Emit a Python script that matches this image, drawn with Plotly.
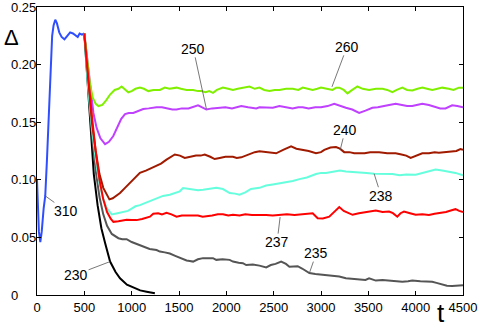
import plotly.graph_objects as go

# tick values
x_ticks = [0, 500, 1000, 1500, 2000, 2500, 3000, 3500, 4000, 4500]
y_ticks = [0, 0.05, 0.10, 0.15, 0.20, 0.25]
y_tick_text = ["0", "0.05", "0.10", "0.15", "0.20", "0.25"]

# series "310" (common start, up to t=500)
t_310 = [0, 10, 20, 35, 50, 70, 87, 105, 120, 140, 160, 175, 193, 210, 235, 260, 290,
         320, 350, 380, 410, 430, 450, 475, 500]
d_310 = [0.100, 0.075, 0.055, 0.046, 0.055, 0.075, 0.086, 0.117, 0.150, 0.195, 0.225,
         0.234, 0.239, 0.236, 0.228, 0.224, 0.222, 0.225, 0.228, 0.227, 0.225, 0.224,
         0.227, 0.226, 0.227]

t_230 = [500, 530, 560, 600, 640, 680, 720, 772, 830, 877, 950, 1017, 1090, 1158, 1245]
d_230 = [0.227, 0.190, 0.145, 0.105, 0.078, 0.058, 0.045, 0.029, 0.020, 0.0145, 0.009,
         0.0067, 0.004, 0.0029, 0.0015]

t_235 = [500, 540, 580, 620, 660, 700, 740, 790, 860, 900, 947, 1000, 1060, 1122, 1190,
         1263, 1298, 1350, 1403, 1460, 1520, 1580, 1614, 1649, 1700, 1754, 1810, 1859,
         1894, 1960, 2035, 2070, 2130, 2175, 2210, 2280, 2350, 2421, 2470, 2520, 2579,
         2630, 2666, 2720, 2754, 2800, 2842, 2877, 2940, 3000, 3052, 3120, 3193, 3263,
         3330, 3403, 3470, 3508, 3579, 3650, 3720, 3824, 3859, 3920, 3964, 4050, 4120,
         4175, 4220, 4280, 4330, 4386, 4440, 4500]
d_235 = [0.227, 0.180, 0.140, 0.108, 0.085, 0.070, 0.060, 0.053, 0.0493, 0.0485, 0.0485,
         0.046, 0.044, 0.042, 0.040, 0.039, 0.0377, 0.037, 0.036, 0.034, 0.032, 0.030,
         0.0296, 0.029, 0.031, 0.032, 0.032, 0.032, 0.0305, 0.031, 0.0305, 0.029, 0.028,
         0.0276, 0.026, 0.0265, 0.0255, 0.024, 0.026, 0.027, 0.029, 0.027, 0.0246, 0.025,
         0.025, 0.023, 0.021, 0.019, 0.0183, 0.0178, 0.0174, 0.017, 0.016, 0.0145, 0.014,
         0.0135, 0.013, 0.0145, 0.0125, 0.013, 0.0125, 0.012, 0.0116, 0.012, 0.0125,
         0.012, 0.012, 0.0115, 0.0105, 0.009, 0.008, 0.0078, 0.0082, 0.0085]

t_237 = [500, 540, 580, 620, 660, 700, 740, 780, 807, 860, 947, 1000, 1052, 1110, 1160,
         1193, 1228, 1280, 1320, 1368, 1420, 1474, 1530, 1590, 1649, 1700, 1750, 1789,
         1850, 1910, 1964, 2020, 2070, 2140, 2200, 2270, 2350, 2420, 2490, 2561, 2640,
         2720, 2800, 2870, 2912, 2965, 3020, 3087, 3140, 3193, 3240, 3290, 3333, 3400,
         3470, 3530, 3579, 3650, 3719, 3760, 3806, 3840, 3877, 3940, 4000, 4070, 4140,
         4200, 4245, 4320, 4380, 4421, 4460, 4500]
d_237 = [0.227, 0.190, 0.155, 0.125, 0.100, 0.083, 0.072, 0.066, 0.0635, 0.064, 0.0653,
         0.065, 0.065, 0.066, 0.067, 0.068, 0.0705, 0.071, 0.070, 0.0713, 0.070, 0.068,
         0.069, 0.069, 0.0687, 0.069, 0.068, 0.0683, 0.069, 0.070, 0.070, 0.069, 0.0696,
         0.069, 0.070, 0.0695, 0.0696, 0.0695, 0.069, 0.0695, 0.070, 0.0695, 0.070,
         0.0705, 0.071, 0.0667, 0.0665, 0.068, 0.072, 0.0763, 0.073, 0.071, 0.0696,
         0.071, 0.072, 0.0725, 0.0733, 0.072, 0.0725, 0.071, 0.068, 0.071, 0.0725, 0.071,
         0.0696, 0.070, 0.0695, 0.0705, 0.071, 0.072, 0.0735, 0.0745, 0.073, 0.072]

t_238 = [500, 540, 580, 620, 660, 700, 740, 789, 850, 912, 960, 1000, 1040, 1087, 1150,
         1200, 1263, 1330, 1403, 1460, 1508, 1543, 1600, 1650, 1700, 1754, 1800, 1894,
         1964, 2000, 2035, 2090, 2140, 2200, 2260, 2350, 2420, 2490, 2561, 2640, 2701,
         2772, 2850, 2947, 3000, 3052, 3120, 3200, 3263, 3330, 3403, 3480, 3561, 3660,
         3754, 3830, 3900, 4000, 4080, 4150, 4210, 4280, 4350, 4420, 4500]
d_238 = [0.227, 0.180, 0.145, 0.118, 0.097, 0.083, 0.075, 0.070, 0.071, 0.0725, 0.073,
         0.075, 0.077, 0.078, 0.080, 0.082, 0.084, 0.086, 0.087, 0.089, 0.090, 0.0928,
         0.092, 0.0915, 0.091, 0.0913, 0.092, 0.093, 0.092, 0.090, 0.0885, 0.088, 0.087,
         0.089, 0.092, 0.093, 0.095, 0.096, 0.097, 0.098, 0.099, 0.1006, 0.102, 0.105,
         0.106, 0.106, 0.107, 0.108, 0.1073, 0.107, 0.107, 0.106, 0.1053, 0.105, 0.105,
         0.104, 0.1045, 0.1044, 0.106, 0.108, 0.109, 0.108, 0.107, 0.106, 0.104]

t_240 = [500, 540, 580, 620, 660, 700, 740, 765, 800, 840, 877, 930, 1000, 1050, 1087,
         1150, 1200, 1263, 1310, 1368, 1410, 1456, 1510, 1561, 1620, 1680, 1730, 1772,
         1830, 1877, 1930, 1990, 2070, 2110, 2158, 2210, 2260, 2300, 2350, 2420, 2480,
         2526, 2600, 2650, 2684, 2740, 2807, 2870, 2947, 3000, 3035, 3100, 3158, 3200,
         3245, 3300, 3350, 3403, 3460, 3520, 3614, 3700, 3789, 3850, 3900, 3947, 4000,
         4070, 4140, 4200, 4245, 4300, 4386, 4430, 4473, 4500]
d_240 = [0.227, 0.185, 0.150, 0.125, 0.105, 0.093, 0.086, 0.083, 0.084, 0.086, 0.0885,
         0.093, 0.0986, 0.103, 0.106, 0.108, 0.110, 0.112, 0.114, 0.1175, 0.120, 0.122,
         0.121, 0.119, 0.120, 0.121, 0.121, 0.122, 0.120, 0.118, 0.119, 0.120, 0.120,
         0.119, 0.1195, 0.121, 0.123, 0.124, 0.1247, 0.124, 0.123, 0.123, 0.126, 0.128,
         0.129, 0.127, 0.126, 0.125, 0.123, 0.124, 0.126, 0.128, 0.1285, 0.127, 0.124,
         0.124, 0.123, 0.123, 0.123, 0.124, 0.124, 0.123, 0.123, 0.122, 0.121, 0.119,
         0.121, 0.123, 0.123, 0.124, 0.1235, 0.124, 0.1245, 0.125, 0.1267, 0.126]

t_250 = [500, 530, 560, 596, 630, 670, 719, 760, 806, 850, 890, 930, 970, 1017, 1070,
         1122, 1180, 1263, 1320, 1380, 1430, 1474, 1530, 1600, 1650, 1701, 1740, 1789,
         1850, 1929, 1990, 2060, 2100, 2158, 2230, 2316, 2350, 2420, 2491, 2561, 2630,
         2700, 2760, 2807, 2870, 2940, 3000, 3070, 3140, 3200, 3263, 3330, 3403, 3470,
         3543, 3600, 3649, 3720, 3789, 3850, 3910, 3964, 4020, 4070, 4140, 4210, 4260,
         4315, 4350, 4386, 4440, 4500]
d_250 = [0.227, 0.205, 0.180, 0.158, 0.145, 0.136, 0.131, 0.133, 0.138, 0.146, 0.153,
         0.157, 0.158, 0.158, 0.160, 0.1615, 0.162, 0.163, 0.163, 0.162, 0.161, 0.161,
         0.162, 0.162, 0.163, 0.1647, 0.163, 0.161, 0.162, 0.1625, 0.163, 0.162, 0.163,
         0.164, 0.163, 0.162, 0.163, 0.163, 0.1625, 0.164, 0.163, 0.162, 0.163, 0.163,
         0.162, 0.163, 0.163, 0.164, 0.166, 0.164, 0.1625, 0.161, 0.158, 0.160, 0.1625,
         0.163, 0.164, 0.165, 0.166, 0.165, 0.164, 0.164, 0.165, 0.166, 0.165, 0.163,
         0.162, 0.162, 0.163, 0.1647, 0.164, 0.163]

t_260 = [500, 530, 560, 590, 620, 650, 690, 730, 772, 820, 860, 894, 930, 964, 1000,
         1040, 1087, 1130, 1175, 1230, 1298, 1350, 1400, 1474, 1520, 1580, 1649, 1700,
         1737, 1780, 1820, 1859, 1900, 1964, 2020, 2070, 2120, 2180, 2245, 2300, 2350,
         2400, 2456, 2510, 2561, 2630, 2701, 2760, 2807, 2860, 2912, 2960, 3000, 3060,
         3122, 3160, 3193, 3240, 3280, 3330, 3385, 3440, 3508, 3580, 3649, 3700, 3754,
         3800, 3859, 3910, 3964, 4020, 4070, 4120, 4175, 4230, 4280, 4350, 4400, 4456,
         4500]
d_260 = [0.227, 0.205, 0.183, 0.171, 0.166, 0.164, 0.165, 0.169, 0.174, 0.178, 0.179,
         0.181, 0.178, 0.176, 0.177, 0.179, 0.180, 0.179, 0.177, 0.178, 0.178, 0.180,
         0.179, 0.180, 0.179, 0.178, 0.178, 0.177, 0.177, 0.176, 0.177, 0.1755, 0.178,
         0.180, 0.179, 0.178, 0.179, 0.180, 0.181, 0.179, 0.180, 0.178, 0.177, 0.178,
         0.178, 0.179, 0.179, 0.178, 0.180, 0.179, 0.178, 0.179, 0.180, 0.179, 0.178,
         0.180, 0.180, 0.178, 0.175, 0.178, 0.181, 0.179, 0.178, 0.179, 0.179, 0.178,
         0.176, 0.178, 0.180, 0.178, 0.1775, 0.179, 0.180, 0.179, 0.178, 0.179, 0.180,
         0.179, 0.178, 0.180, 0.180]

font = "Liberation Sans, Arial, sans-serif"

fig = go.Figure()

# draw order: back to front
series = [
    (t_310, d_310, "#2f4fff"),
    (t_230, d_230, "#000000"),
    (t_235, d_235, "#555555"),
    (t_238, d_238, "#66ffdd"),
    (t_240, d_240, "#a01a00"),
    (t_250, d_250, "#bf40ff"),
    (t_260, d_260, "#80f000"),
    (t_237, d_237, "#ff0000"),
]
for t, d, c in series:
    fig.add_trace(go.Scatter(x=t, y=d, mode="lines",
                             line=dict(color=c, width=2), showlegend=False))

# curve labels with thin leader lines: (label, t, value, dx, dy)
labels = [
    ("310", 87, 0.086, 21, 15),
    ("230", 772, 0.029, -34, 13),
    ("237", 2568, 0.0676, -3, 25),
    ("235", 2877, 0.019, 7, -20),
    ("238", 3561, 0.1053, 7, 22),
    ("240", 3203, 0.126, 5, -20),
    ("250", 1789, 0.1616, -13, -60),
    ("260", 3116, 0.1807, 15, -40),
]
for txt, t, v, dx, dy in labels:
    fig.add_annotation(x=t, y=v, text=txt, showarrow=True, arrowhead=0,
                       arrowwidth=0.8, arrowcolor="#555555", ax=dx, ay=dy,
                       standoff=0, borderpad=0,
                       font=dict(family=font, size=14, color="black"))

# left-aligned y tick labels
for v, s in zip(y_ticks, y_tick_text):
    fig.add_annotation(xref="paper", yref="y", x=-0.0657, y=v, text=s,
                       showarrow=False, xanchor="left", yanchor="middle",
                       font=dict(family=font, size=13, color="black"))

# axis titles
fig.add_annotation(xref="paper", yref="paper", x=-0.061, y=0.894, text="Δ",
                   showarrow=False, xanchor="center", yanchor="middle",
                   font=dict(family=font, size=22, color="black"))
fig.add_annotation(xref="paper", yref="paper", x=0.948, y=-0.0625, text="t",
                   showarrow=False, xanchor="center", yanchor="middle",
                   font=dict(family=font, size=26, color="black"))

axis_style = dict(showline=True, linecolor="black", linewidth=1, mirror="ticks",
                  ticks="inside", ticklen=4, tickcolor="black", tickwidth=1,
                  showgrid=False, zeroline=False, automargin=False)

fig.update_layout(
    width=480, height=327,
    margin=dict(l=37, r=17, t=7, b=32),
    paper_bgcolor="white", plot_bgcolor="white",
    font=dict(family=font, size=13, color="black"),
    xaxis=dict(range=[0, 4500], tickvals=x_ticks, **axis_style),
    yaxis=dict(range=[0, 0.25], tickvals=y_ticks, showticklabels=False, **axis_style),
)

# page has a default body margin; drop it so the figure fills the window
fig.write_html("out.html", config={"displayModeBar": False},
               post_script="document.body.style.margin='0';")
